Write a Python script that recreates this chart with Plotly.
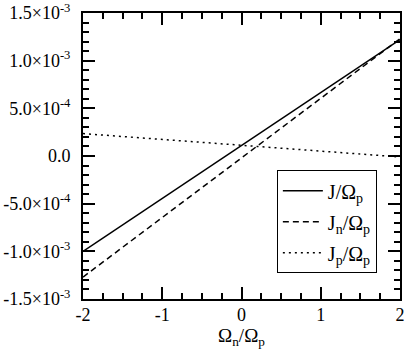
import plotly.graph_objects as go

# values
omega_ratio = [-2, -1, 0, 1, 2]
j_total = [-1.0e-3, -0.445e-3, 0.11e-3, 0.665e-3, 1.22e-3]
j_n = [-1.27e-3, -0.645e-3, -0.02e-3, 0.605e-3, 1.23e-3]
j_p = [0.235e-3, 0.175e-3, 0.113e-3, 0.052e-3, -0.01e-3]

ytick_vals = [-1.5e-3, -1.0e-3, -5e-4, 0, 5e-4, 1.0e-3, 1.5e-3]
ytick_text = ["-1.5×10<sup>-3</sup>", "-1.0×10<sup>-3</sup>", "-5.0×10<sup>-4</sup>",
              "0.0", "5.0×10<sup>-4</sup>", "1.0×10<sup>-3</sup>", "1.5×10<sup>-3</sup>"]
xtick_vals = [-2, -1, 0, 1, 2]
xtick_text = ["-2", "-1", "0", "1", "2"]

font_name = "Liberation Serif, Times New Roman, serif"

fig = go.Figure()

fig.add_trace(go.Scatter(
    x=omega_ratio, y=j_total, mode="lines",
    name="J/Ω<sub>p</sub>", legendgroup="a",
    line=dict(color="black", width=1.5)
))
fig.add_trace(go.Scatter(
    x=omega_ratio, y=j_n, mode="lines",
    name="J<sub>n</sub>/Ω<sub>p</sub>", legendgroup="b",
    line=dict(color="black", width=1.5, dash="6px,4px")
))
fig.add_trace(go.Scatter(
    x=omega_ratio, y=j_p, mode="lines",
    name="J<sub>p</sub>/Ω<sub>p</sub>", legendgroup="c",
    line=dict(color="black", width=1.5, dash="2px,4px")
))

axis_common = dict(
    showline=True, linecolor="black", linewidth=2,
    mirror="allticks", ticks="inside", ticklen=12, tickwidth=1.5,
    tickcolor="black", showgrid=False, zeroline=False,
    tickfont=dict(family=font_name, size=18, color="black"),
    automargin=False, ticklabeloverflow="allow",
)

fig.update_layout(
    width=408, height=354,
    paper_bgcolor="white", plot_bgcolor="white",
    font=dict(family=font_name, size=18, color="black"),
    margin=dict(l=83, r=8, t=13, b=55, autoexpand=False),
    showlegend=True,
    legend=dict(
        x=0.927, y=0.45, xanchor="right", yanchor="top",
        bgcolor="white", bordercolor="black", borderwidth=1,
        itemwidth=40, traceorder="grouped", tracegroupgap=2,
        font=dict(family=font_name, size=20, color="black"),
    ),
    xaxis=dict(
        range=[-2, 2.0001], tickvals=xtick_vals, ticktext=xtick_text,
        ticklabelstandoff=-2,
        minor=dict(dtick=0.25, ticks="inside", ticklen=6, tickcolor="black", tickwidth=1.5),
        title=dict(text="Ω<sub>n</sub>/Ω<sub>p</sub>", standoff=2,
                   font=dict(family=font_name, size=19)),
        **axis_common
    ),
    yaxis=dict(
        range=[-1.5e-3, 1.5e-3], tickvals=ytick_vals, ticktext=ytick_text,
        ticklabelstandoff=7,
        minor=dict(dtick=1e-4, ticks="inside", ticklen=6, tickcolor="black", tickwidth=1.5),
        **axis_common
    ),
)

# remove the default page margin so the figure sits at the window's corner
fig.write_html("out.html", config={"displayModeBar": False},
               post_script="document.body.style.margin='0';")
